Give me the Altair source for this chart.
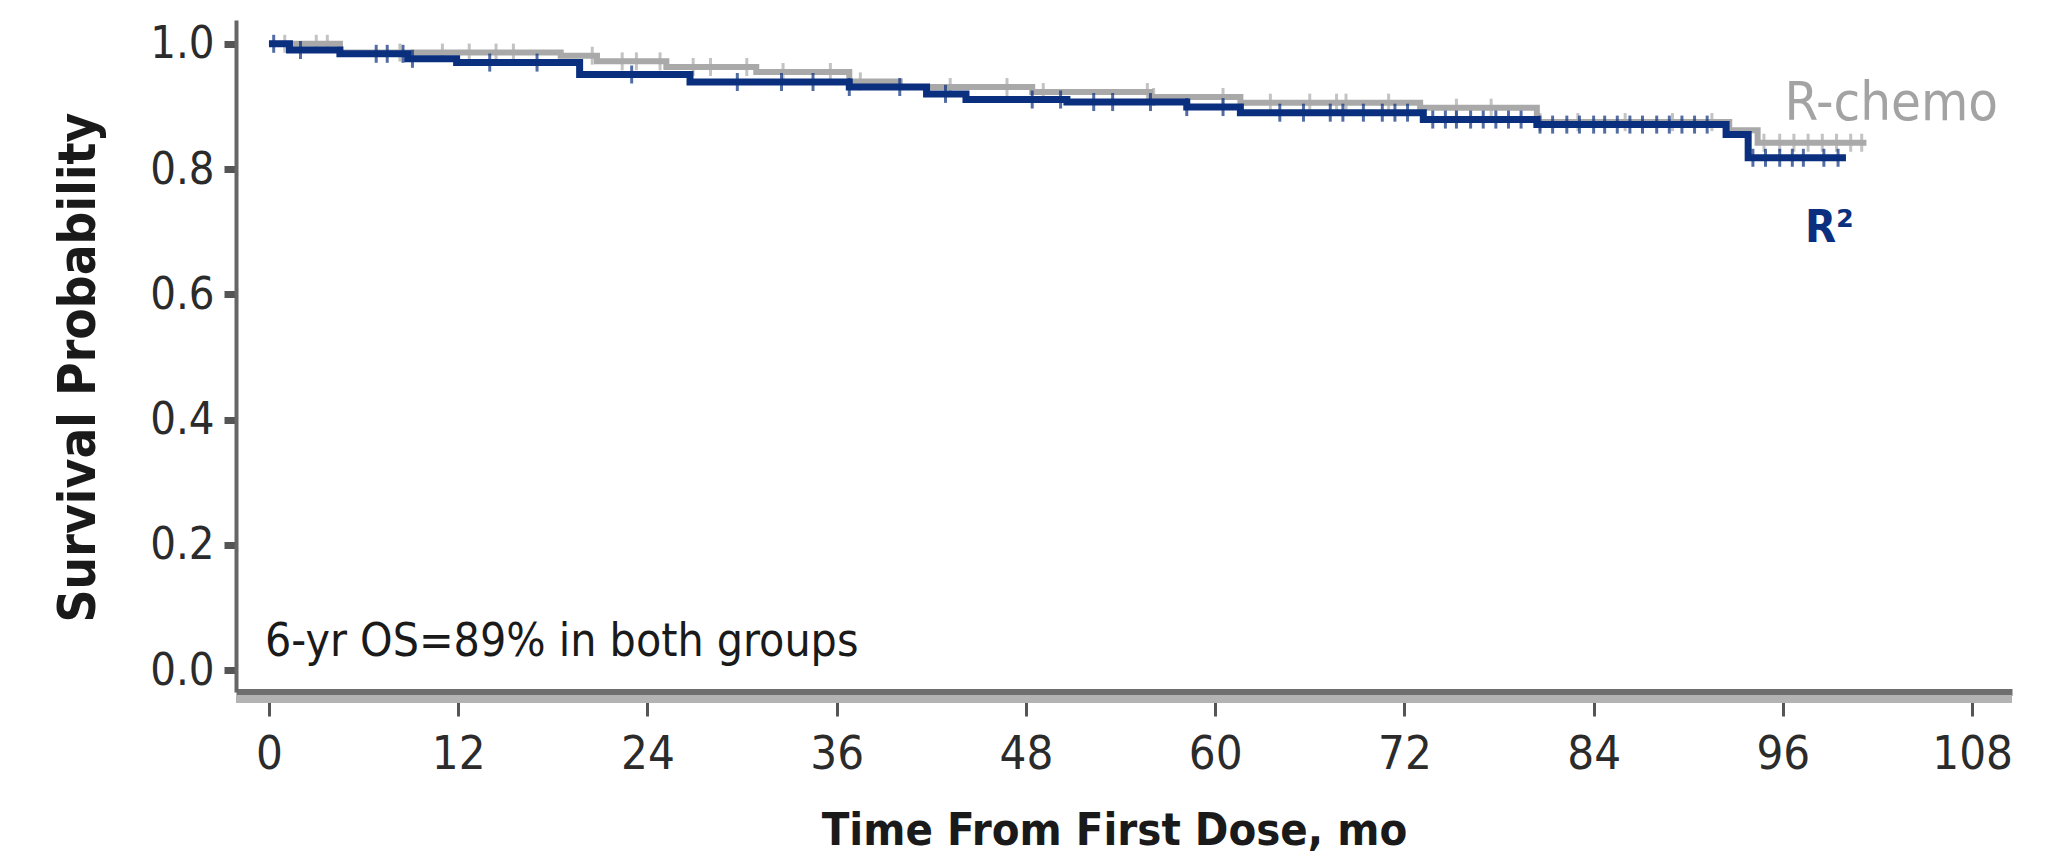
import bisect

import altair as alt
import pandas as pd

# Kaplan-Meier step values (months, overall survival) for each arm
r2_time = [0, 1.3, 4.5, 8.8, 11.9, 19.7, 26.7, 36.8, 41.7, 44.2, 50.6, 58.2, 61.6, 73.2, 80.4, 92.4, 93.8, 100.0]
r2_surv = [1.000, 0.990, 0.984, 0.976, 0.970, 0.951, 0.939, 0.931, 0.920, 0.911, 0.907, 0.899, 0.890, 0.879, 0.871, 0.855, 0.818, 0.818]

rc_time = [0, 4.5, 18.5, 20.8, 25.2, 30.9, 36.8, 40.0, 48.4, 55.9, 61.6, 73.0, 80.4, 92.6, 94.4, 101.3]
rc_surv = [1.000, 0.986, 0.981, 0.972, 0.963, 0.955, 0.940, 0.931, 0.923, 0.915, 0.906, 0.898, 0.875, 0.862, 0.842, 0.842]

# Censoring times (months)
r2_censor = [0.3, 2.0, 6.8, 7.5, 8.5, 9.1, 14.0, 17.0, 23.0, 29.7, 32.5, 34.5, 36.8, 40.0, 42.9,
             48.4, 50.2, 52.3, 53.5, 55.9, 58.2, 60.5, 64.1, 65.6, 67.3, 68.1, 69.4, 70.6, 71.4,
             72.2, 73.8, 74.6, 75.3, 76.2, 77.0, 77.8, 78.6, 79.4, 80.6, 81.4, 82.3, 83.1, 84.0,
             84.7, 85.5, 86.3, 87.1, 88.0, 88.8, 89.6, 90.4, 91.2, 94.1, 94.9, 95.8, 96.6, 97.3,
             98.6, 99.5]
rc_censor = [1.0, 3.0, 3.7, 8.3, 11.0, 12.7, 14.4, 15.5, 20.5, 22.4, 23.3, 24.8, 26.9, 28.0,
             30.3, 32.6, 35.6, 37.5, 43.2, 46.8, 49.1, 55.7, 56.1, 60.5, 63.5, 66.0, 67.7, 68.3,
             71.0, 75.3, 77.5, 80.6, 83.0, 86.0, 89.0, 91.5, 94.8, 95.8, 96.7, 97.6, 98.5,
             99.4, 100.3, 101.0]

x_ticks = [0, 12, 24, 36, 48, 60, 72, 84, 96, 108]
y_ticks = [0.0, 0.2, 0.4, 0.6, 0.8, 1.0]

BLUE = "#0a2f7e"
GRAY = "#a9a9a9"
FONT = "Liberation Sans Narrow, DejaVu Sans Condensed, Arial Narrow, sans-serif"


def surv_at(times, survs, t):
    return survs[max(bisect.bisect_right(times, t) - 1, 0)]


r2_curve = pd.DataFrame({"time": r2_time, "surv": r2_surv})
rc_curve = pd.DataFrame({"time": rc_time, "surv": rc_surv})
r2_marks = pd.DataFrame({"time": r2_censor, "surv": [surv_at(r2_time, r2_surv, t) for t in r2_censor]})
rc_marks = pd.DataFrame({"time": rc_censor, "surv": [surv_at(rc_time, rc_surv, t) for t in rc_censor]})

x_enc = alt.X(
    "time:Q",
    scale=alt.Scale(domain=[-2.09, 110.53], nice=False, zero=False),
    axis=alt.Axis(
        values=x_ticks, format="d", title="Time From First Dose, mo",
        domainColor="#6f6f6f", domainWidth=7,
        tickColor="#555555", tickWidth=3, tickSize=24,
        labelFont=FONT, labelFontSize=47, labelColor="#2b2b2b", labelPadding=15,
        titleFont=FONT, titleFontSize=45, titleFontWeight="bold", titleColor="#1a1a1a",
        titleX=878, titleY=152, titleBaseline="alphabetic", titleAlign="center",
        grid=False,
    ),
)
y_enc = alt.Y(
    "surv:Q",
    scale=alt.Scale(domain=[-0.035, 1.038], nice=False, zero=False),
    axis=alt.Axis(
        values=y_ticks, format=".1f", title="Survival Probability",
        domainColor="#666666", domainWidth=4,
        tickColor="#555555", tickWidth=7, tickSize=12,
        labelFont=FONT, labelFontSize=45, labelColor="#2b2b2b", labelPadding=10,
        titleFont=FONT, titleFontSize=51, titleFontWeight="bold", titleColor="#1a1a1a",
        titleAngle=-90, titleX=-157, titleY=347, titleBaseline="middle", titleAlign="center",
        grid=False,
    ),
)

rc_line = alt.Chart(rc_curve).mark_line(interpolate="step-after", color=GRAY, strokeWidth=6).encode(x=x_enc, y=y_enc)
rc_ticks = alt.Chart(rc_marks).mark_tick(orient="vertical", color=GRAY, size=18, thickness=3).encode(x=x_enc, y=y_enc)
r2_line = alt.Chart(r2_curve).mark_line(interpolate="step-after", color=BLUE, strokeWidth=7).encode(x=x_enc, y=y_enc)
r2_ticks = alt.Chart(r2_marks).mark_tick(orient="vertical", color=BLUE, size=18, thickness=3).encode(x=x_enc, y=y_enc)

# Light lower edge under the x axis line
axis_band = alt.Chart(pd.DataFrame({"a": [0]})).mark_rule(color="#b3b3b3", strokeWidth=8).encode(
    x=alt.value(0), x2=alt.value(1776), y=alt.value(679)
)

labels = pd.DataFrame({
    "time": [96.1, 97.4, -0.25],
    "surv": [0.879, 0.684, 0.022],
    "text": ["R-chemo", "R\u00b2", "6-yr OS=89% in both groups"],
    "group": ["rc", "r2", "note"],
})

rc_label = alt.Chart(labels[labels.group == "rc"]).mark_text(
    align="left", baseline="alphabetic", font=FONT, fontSize=54, color="#a3a3a3"
).encode(x=x_enc, y=y_enc, text="text:N")
r2_label = alt.Chart(labels[labels.group == "r2"]).mark_text(
    align="left", baseline="alphabetic", font=FONT, fontSize=45, fontWeight="bold", color=BLUE
).encode(x=x_enc, y=y_enc, text="text:N")
note = alt.Chart(labels[labels.group == "note"]).mark_text(
    align="left", baseline="alphabetic", font=FONT, fontSize=46, color="#1a1a1a"
).encode(x=x_enc, y=y_enc, text="text:N")

chart = alt.layer(
    axis_band, rc_line, rc_ticks, r2_line, r2_ticks, rc_label, r2_label, note
).properties(
    width=1776, height=672,
    padding={"left": 236, "top": 20, "right": 43, "bottom": 167},
    autosize="none",
    background="white",
).configure_view(stroke=None)

chart.save("out.html", embed_options={"renderer": "svg", "actions": False})
